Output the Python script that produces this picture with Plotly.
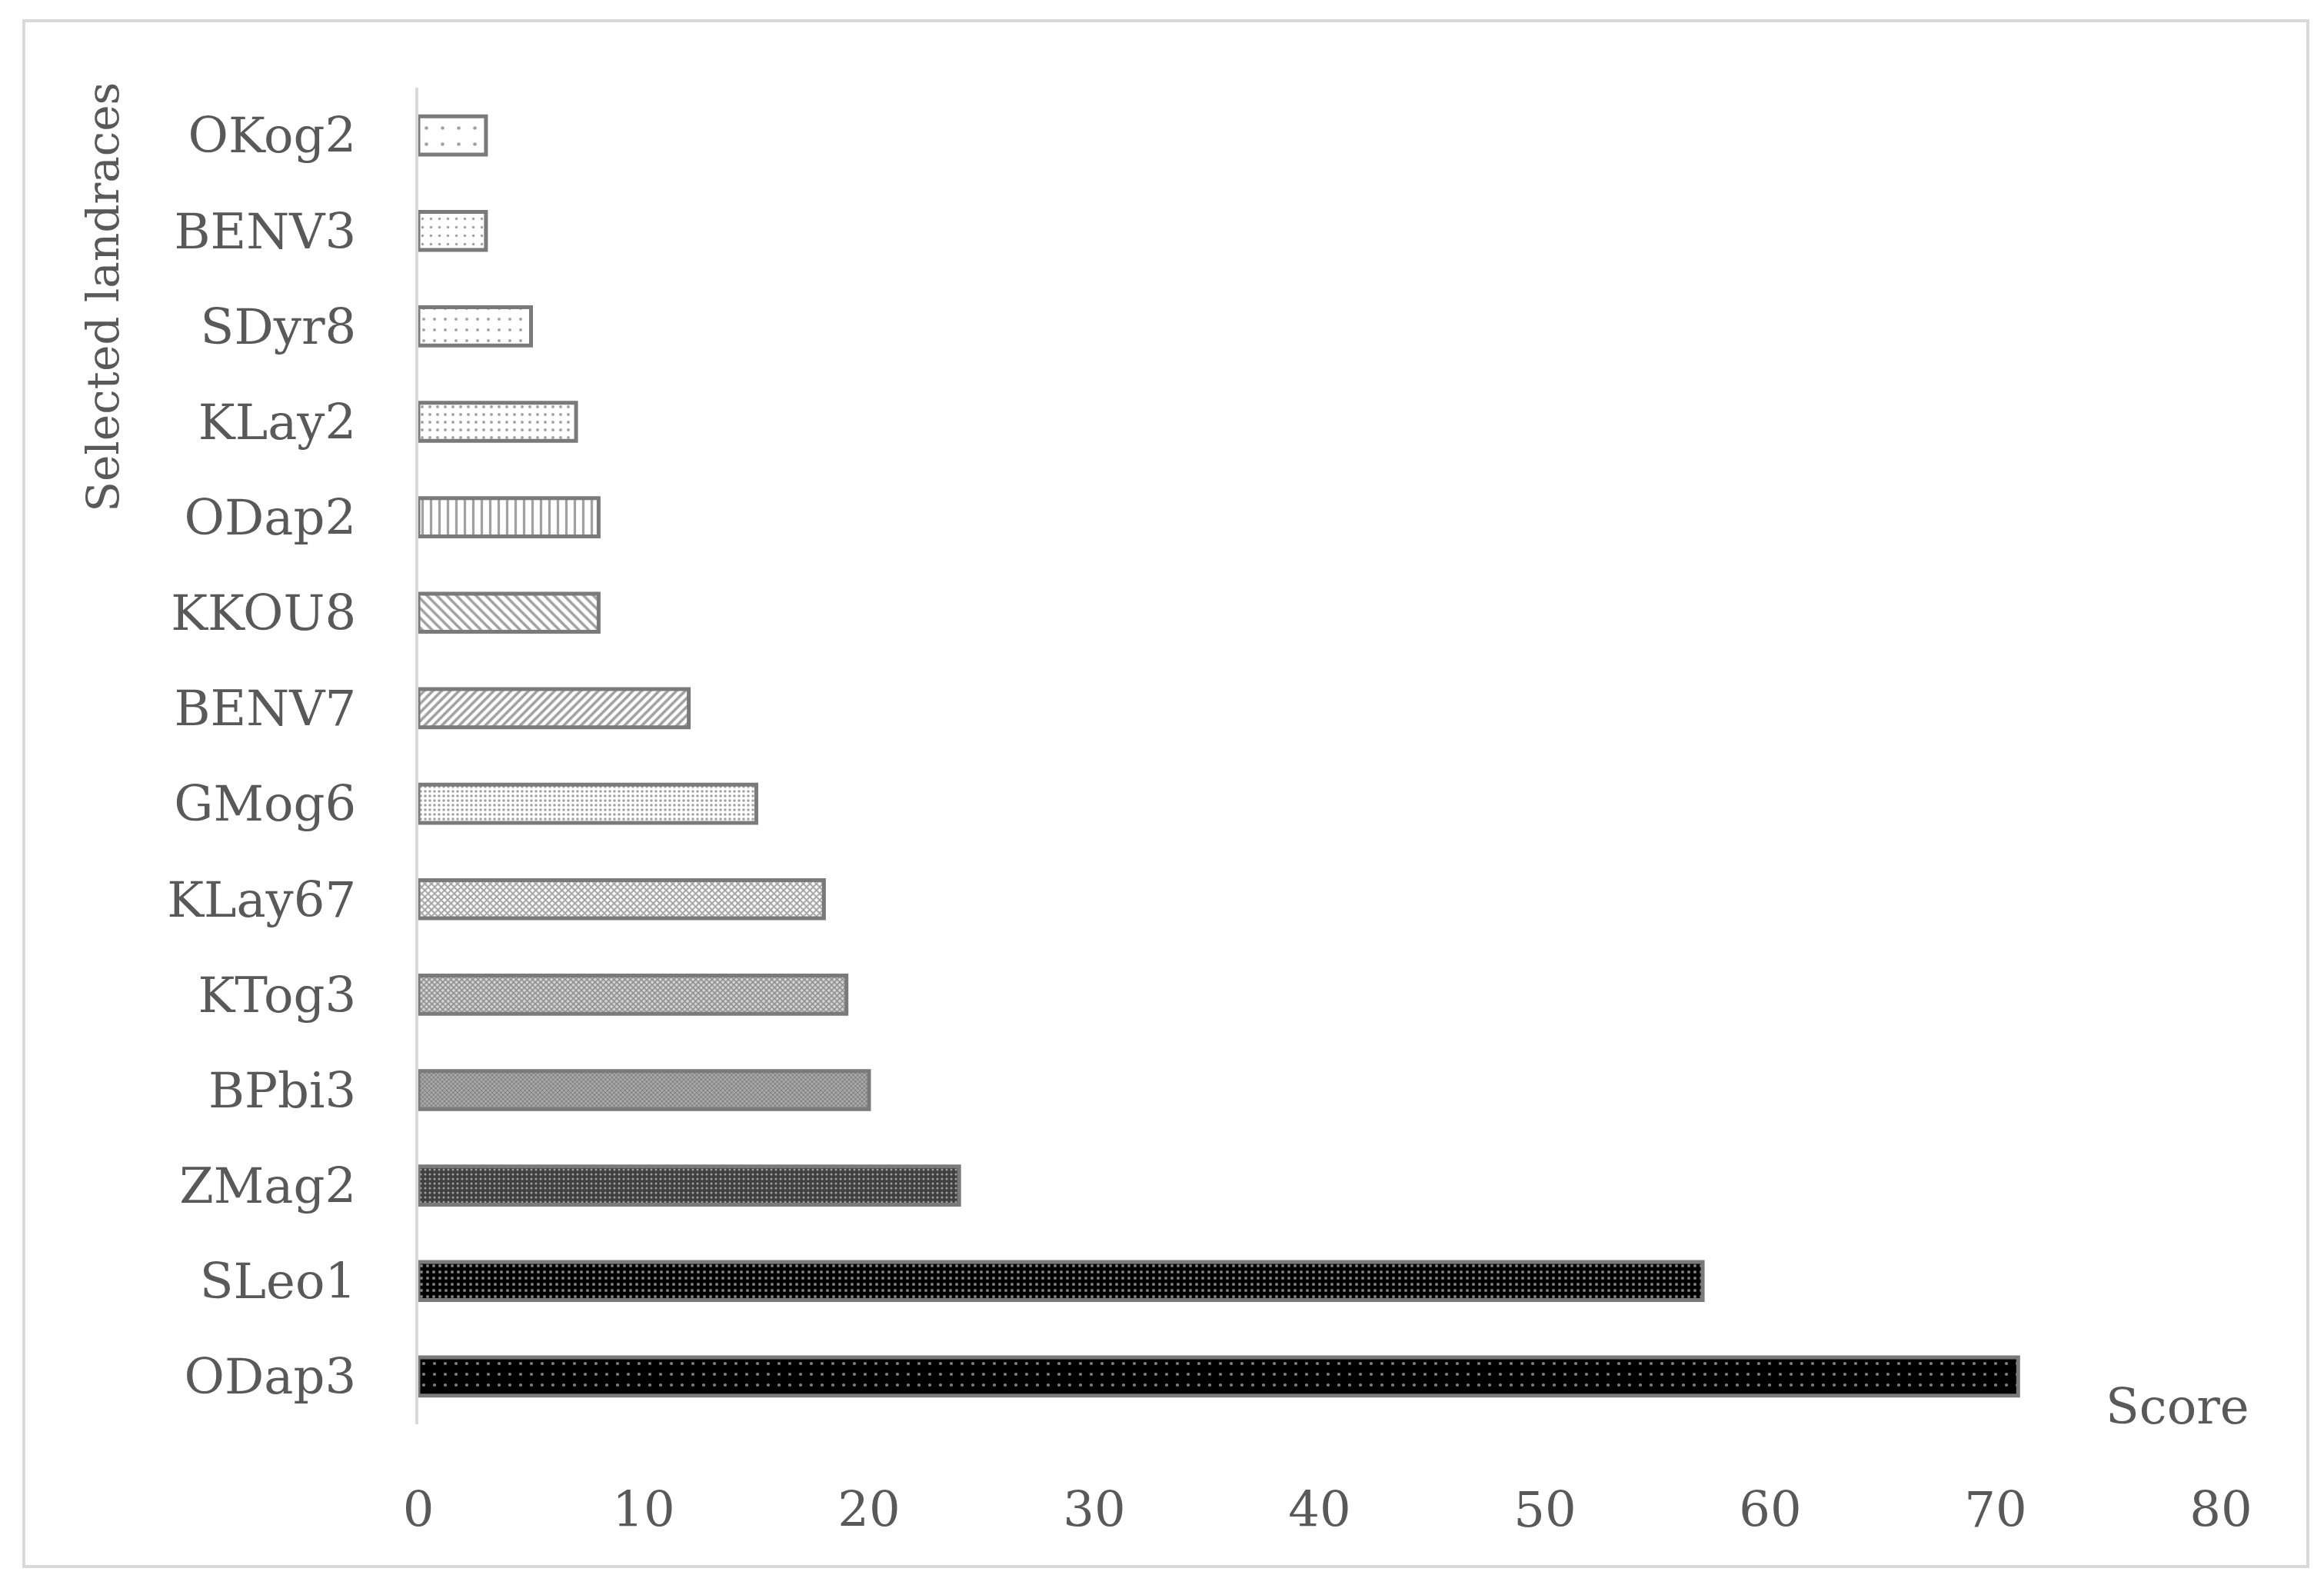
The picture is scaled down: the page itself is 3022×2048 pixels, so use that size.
import plotly.graph_objects as go

# landraces listed top to bottom as they appear in the chart
landraces = ["OKog2", "BENV3", "SDyr8", "KLay2", "ODap2", "KKOU8", "BENV7",
             "GMog6", "KLay67", "KTog3", "BPbi3", "ZMag2", "SLeo1", "ODap3"]
scores = [3, 3, 5, 7, 8, 8, 12, 15, 18, 19, 20, 24, 57, 71]
x_ticks = [0, 10, 20, 30, 40, 50, 60, 70, 80]

# fill patterns imitating the greyscale textures of the original
pat_shape = [".", ".", ".", ".", "|", "\\", "/", ".", "x", "x", "x", ".", ".", "."]
pat_size = [21, 11, 14, 10, 11, 9, 8, 6, 6, 5, 4, 6, 8, 14]
pat_solid = [0.04, 0.08, 0.06, 0.12, 0.3, 0.4, 0.45, 0.28, 0.55, 0.5, 0.4, 0.2, 0.2, 0.07]
pat_fg = ["black"] * 11 + ["white", "white", "white"]
bar_bg = ["white"] * 9 + ["#d4d4d4", "#a8a8a8", "#404040", "black", "black"]

FONT = "DejaVu Serif"
GREY = "#595959"
FSIZE = 64

fig = go.Figure()
fig.add_trace(go.Bar(
    x=scores, y=landraces, orientation="h", width=0.4,
    marker=dict(
        color=bar_bg,
        line=dict(color="#7a7a7a", width=5),
        pattern=dict(shape=pat_shape, size=pat_size, solidity=pat_solid,
                     fgcolor=pat_fg, fillmode="overlay"),
    ),
    showlegend=False,
))

fig.update_layout(
    width=3022, height=2048,
    margin=dict(l=536, r=142, t=106, b=204),
    paper_bgcolor="white", plot_bgcolor="white",
    font=dict(family=FONT, size=FSIZE, color=GREY),
    xaxis=dict(range=[0, 80], tickvals=x_ticks, showgrid=False, zeroline=False,
               showline=False, ticks="", ticklabelstandoff=68),
    yaxis=dict(autorange="reversed", showgrid=False, zeroline=False,
               showline=True, linecolor="#d9d9d9", linewidth=4, ticks="",
               ticklabelstandoff=64),
    bargap=0.6,
)

# outer frame
fig.add_shape(type="rect", xref="paper", yref="paper",
              x0=-0.2189, x1=1.0482, y0=-0.1064, y1=1.050,
              line=dict(color="#d9d9d9", width=4), fillcolor="rgba(0,0,0,0)")

fig.add_annotation(text="Selected landraces", xref="paper", yref="paper",
                   x=-0.175, y=0.8435, xanchor="center", yanchor="middle",
                   textangle=-90, showarrow=False,
                   font=dict(family=FONT, size=58, color=GREY))
fig.add_annotation(text="Score", xref="paper", yref="paper",
                   x=0.9757, y=0.0132, xanchor="center", yanchor="middle",
                   showarrow=False,
                   font=dict(family=FONT, size=FSIZE, color=GREY))

fig.write_html("out.html")
